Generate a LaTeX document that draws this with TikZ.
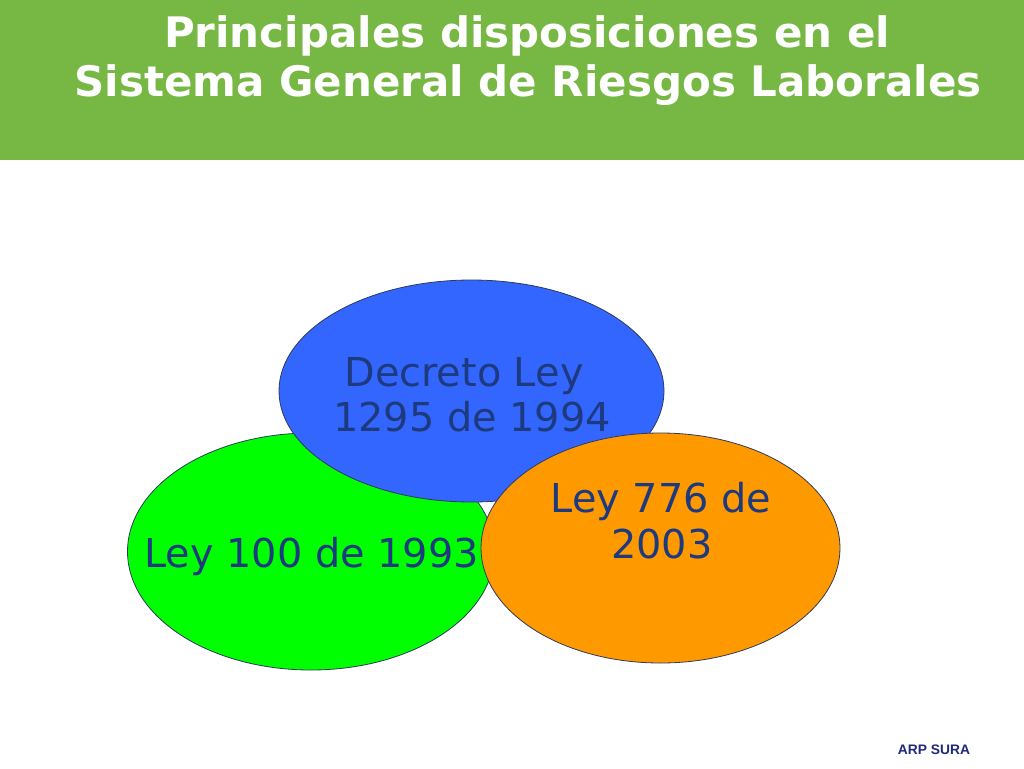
\documentclass[tikz,border=0pt]{standalone}
\usepackage{fontspec}
\setmainfont{DejaVu Sans}
\newfontfamily\arialfont{Liberation Sans}
\usetikzlibrary{shapes.geometric}
\definecolor{headgreen}{HTML}{76B843}
\definecolor{ellgreen}{HTML}{00FF00}
\definecolor{ellblue}{HTML}{3366FF}
\definecolor{ellorange}{HTML}{FF9900}
\definecolor{txtblue}{HTML}{1E3A7E}
\definecolor{edgecol}{HTML}{2E3A5C}
\definecolor{sura}{HTML}{1F2A7A}
\tikzset{
  oval/.style={ellipse, draw=edgecol, line width=0.8pt, inner sep=0pt},
  lbl/.style={anchor=base, text=txtblue, inner sep=0pt, font=\fontsize{39.8}{46}\selectfont},
  ttl/.style={anchor=base, text=white, inner sep=0pt, font=\fontsize{42}{48}\selectfont\bfseries}
}
\begin{document}
\begin{tikzpicture}[x=1pt,y=-1pt]
\useasboundingbox (0,0) rectangle (1024,768);
\fill[white] (0,0) rectangle (1024,768);
\fill[headgreen] (0,0) rectangle (1024,160);
\node[ttl] (t1) at (527,48) {Principales disposiciones en el};
\node[ttl] (t2) at (528,96) {Sistema General de Riesgos Laborales};
% ellipses
\node[oval, fill=ellgreen, minimum width=367pt, minimum height=237pt] (g) at (311,551.5) {};
\node[lbl] (gl) at (311.5,567) {Ley 100 de 1993};
\node[oval, fill=ellblue, minimum width=385pt, minimum height=222pt] (b) at (471.5,391) {};
\node[lbl] (bl1) at (464,386) {Decreto Ley};
\node[lbl] (bl2) at (472,431) {1295 de 1994};
\node[oval, fill=ellorange, minimum width=359pt, minimum height=230pt] (o) at (660.5,548) {};
\node[lbl] (ol1) at (661,512) {Ley 776 de};
\node[lbl] (ol2) at (662,558) {2003};
\node[anchor=base, inner sep=0pt, text=sura, font=\arialfont\bfseries\fontsize{13.8}{16}\selectfont] (arp) at (934,754) {ARP SURA};
\end{tikzpicture}
\end{document}
